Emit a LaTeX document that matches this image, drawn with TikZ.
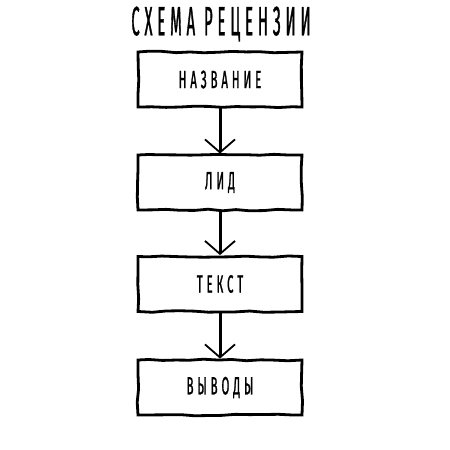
\documentclass[tikz,border=0pt]{standalone}
\usepackage{fontspec}
\newfontfamily\handfont[FakeStretch=0.45,LetterSpace=16,FakeBold=1]{Fira Sans}
\newfontfamily\titlefont[FakeStretch=0.36,LetterSpace=12,FakeBold=0.8]{Fira Sans}
\usetikzlibrary{positioning,arrows.meta,decorations.pathmorphing}
\tikzset{
  sketchbox/.style={draw, line width=2.8pt, minimum width=164pt, minimum height=55pt,
    inner sep=0pt, font=\handfont\fontsize{25}{25}\selectfont,
    decorate, decoration={random steps, segment length=14pt, amplitude=0.8pt}},
  sketcharrow/.style={line width=3pt, -{Straight Barb[length=13pt,width=30pt,line width=1.8pt]}}
}
\begin{document}
\begin{tikzpicture}[x=1pt,y=-1pt]
\pgfmathsetseed{7}
\useasboundingbox (0,0) rectangle (450,450);

\node[font=\titlefont\fontsize{41}{41}\selectfont] (title) at (221,24) {СХЕМА\hspace{9pt}РЕЦЕНЗИИ};

\node[sketchbox] (name) at (220,79.5) {НАЗВАНИЕ};
\node[sketchbox] (lead) at (220,182.5) {ЛИД};
\node[sketchbox] (text) at (220,284) {ТЕКСТ};
\node[sketchbox] (concl) at (220,387.5) {ВЫВОДЫ};

\draw[sketcharrow] (name) -- (lead);
\draw[sketcharrow] (lead) -- (text);
\draw[sketcharrow] (text) -- (concl);
\end{tikzpicture}
\end{document}
